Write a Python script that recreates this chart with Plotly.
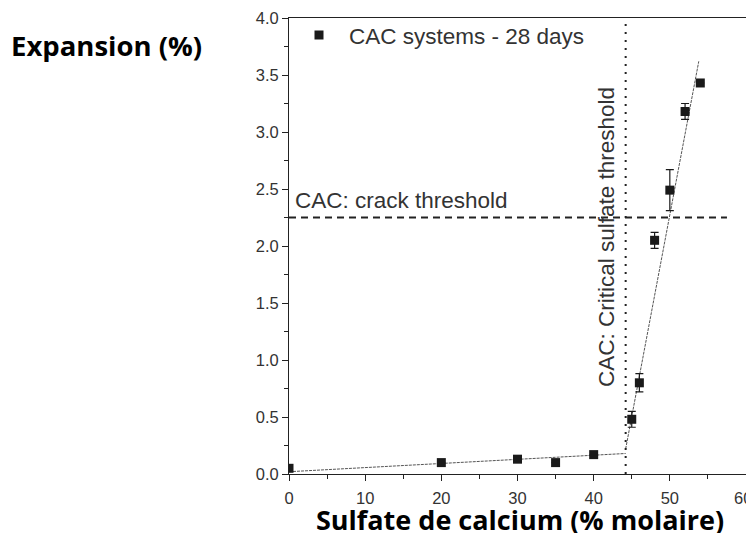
import plotly.graph_objects as go

# Data
sulfate = [0, 20, 30, 35, 40, 45, 46, 48, 50, 52, 54]
expansion = [0.05, 0.10, 0.13, 0.10, 0.17, 0.48, 0.80, 2.05, 2.49, 3.18, 3.43]
expansion_err = [0, 0, 0, 0, 0, 0.07, 0.08, 0.07, 0.18, 0.07, 0]

fit_low_x = [0, 44.2]
fit_low_y = [0.02, 0.18]
fit_high_x = [44.2, 53.8]
fit_high_y = [0.22, 3.62]

critical_sulfate = 44.2
crack_threshold = 2.25
crack_line_end = 57.5

x_ticks = [0, 10, 20, 30, 40, 50, 60]
y_ticks = [0.0, 0.5, 1.0, 1.5, 2.0, 2.5, 3.0, 3.5, 4.0]

font_plain = "Liberation Sans, Arial, sans-serif"
font_bold = "Open Sans, Noto Sans, sans-serif"

fig = go.Figure()

fig.add_trace(go.Scatter(x=fit_low_x, y=fit_low_y, mode="lines",
                         line=dict(color="#555555", width=1, dash="3px,1px"),
                         showlegend=False, hoverinfo="skip"))
fig.add_trace(go.Scatter(x=fit_high_x, y=fit_high_y, mode="lines",
                         line=dict(color="#555555", width=1, dash="3px,1px"),
                         showlegend=False, hoverinfo="skip"))

fig.add_trace(go.Scatter(
    x=sulfate, y=expansion, mode="markers", name="CAC systems - 28 days",
    marker=dict(symbol="square", size=9, color="#1a1a1a"),
    error_y=dict(type="data", array=expansion_err, visible=True,
                 color="#1a1a1a", thickness=1.2, width=4),
))

fig.add_shape(type="line", xref="x", yref="paper",
              x0=critical_sulfate, x1=critical_sulfate, y0=0, y1=1,
              line=dict(color="#222222", width=2, dash="2px,6px"))
fig.add_shape(type="line", xref="paper", yref="y",
              x0=0, x1=crack_line_end / 60, y0=crack_threshold, y1=crack_threshold,
              line=dict(color="#222222", width=2, dash="7px,5px"))

fig.add_annotation(x=0.008, xref="paper", y=crack_threshold, yref="y",
                   text="CAC: crack threshold", showarrow=False,
                   xanchor="left", yanchor="bottom", yshift=3,
                   font=dict(family=font_plain, size=22.5, color="#333333"))
fig.add_annotation(x=critical_sulfate, xref="x", y=2.08, yref="y",
                   text="CAC: Critical sulfate threshold", showarrow=False,
                   textangle=-90, xanchor="right", xshift=-4,
                   font=dict(family=font_plain, size=22.5, color="#333333"))

fig.add_annotation(x=-0.613, xref="paper", y=0.94, yref="paper",
                   text="<b>Expansion (%)</b>", showarrow=False,
                   xanchor="left", yanchor="middle",
                   font=dict(family=font_bold, size=27.5, color="black"))
fig.add_annotation(x=0.505, xref="paper", y=-0.1, yref="paper",
                   text="<b>Sulfate de calcium (% molaire)</b>", showarrow=False,
                   xanchor="center", yanchor="middle",
                   font=dict(family=font_bold, size=27, color="black"))

# last x tick label drawn as annotation so it is not clipped at the page edge
last_tick = x_ticks[-1]
fig.add_annotation(x=last_tick, xref="x", y=0, yref="y",
                   text=str(last_tick), showarrow=False,
                   xanchor="right", yanchor="middle", xshift=7, yshift=-24,
                   borderpad=0,
                   font=dict(family=font_plain, size=16.5, color="#333333"))

axis_common = dict(showgrid=False, zeroline=False, showline=True,
                   linecolor="#222222", linewidth=1, mirror=True,
                   ticks="outside", ticklen=6, tickcolor="#222222",
                   tickfont=dict(family=font_plain, size=16.5, color="#333333"))

fig.update_xaxes(range=[0, 60], tickvals=x_ticks,
                 ticktext=[str(v) if v != last_tick else "" for v in x_ticks],
                 ticklabelstandoff=3,
                 minor=dict(ticks="outside", ticklen=4, dtick=5, tickcolor="#222222"),
                 **axis_common)
fig.update_yaxes(range=[0, 4], tickvals=y_ticks,
                 ticktext=[f"{v:.1f}" for v in y_ticks],
                 minor=dict(ticks="outside", ticklen=4, dtick=0.25, tickcolor="#222222"),
                 **axis_common)

fig.update_layout(
    width=746, height=525,
    margin=dict(l=281, r=8, t=10, b=59, autoexpand=False),
    plot_bgcolor="white", paper_bgcolor="white",
    showlegend=True,
    legend=dict(x=0.0, y=0.962, xanchor="left", yanchor="middle",
                itemwidth=50, bgcolor="rgba(0,0,0,0)",
                font=dict(family=font_plain, size=22.5, color="#333333")),
)

fig.write_html("out.html")
